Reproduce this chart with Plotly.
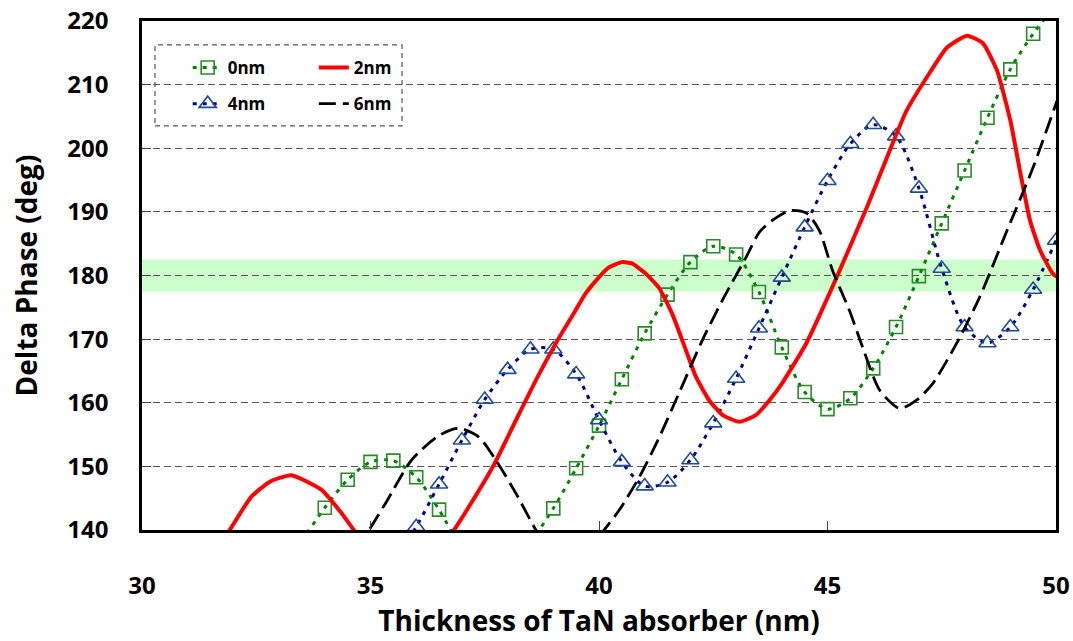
import plotly.graph_objects as go

# ---- data ----
x_0nm = [33.0, 33.5, 34.0, 34.5, 35.0, 35.5, 36.0, 36.5, 37.0, 37.5, 38.0, 38.5, 39.0, 39.5,
         40.0, 40.5, 41.0, 41.5, 42.0, 42.5, 43.0, 43.5, 44.0, 44.5, 45.0, 45.5, 46.0, 46.5,
         47.0, 47.5, 48.0, 48.5, 49.0, 49.5, 50.0]
y_0nm = [133.0, 138.3, 143.5, 147.9, 150.7, 150.9, 148.3, 143.2, 137.0, 133.0, 133.0, 138.0, 143.4, 149.7,
         156.4, 163.7, 170.9, 177.0, 182.1, 184.6, 183.3, 177.4, 168.7, 161.7, 159.0, 160.7, 165.4, 171.9,
         179.9, 188.2, 196.5, 204.8, 212.4, 218.0, 222.5]

x_2nm = [31.3, 31.82, 32.39, 32.8, 33.27, 33.93, 34.36, 34.74, 35.2, 35.75, 36.3, 36.78, 37.2, 37.72,
         38.22, 38.66, 39.1, 39.47, 39.69, 39.91, 40.2, 40.5, 40.72, 41.02, 41.31, 41.6, 41.9, 42.12,
         42.41, 42.7, 43.07, 43.44, 43.73, 44.01, 44.54, 45.2, 45.86, 46.36, 46.73, 47.24, 47.61,
         48.05, 48.4, 48.71, 49.0, 49.21, 49.43, 49.65, 49.93, 50.15]
y_2nm = [134.0, 138.9, 145.2, 147.6, 148.6, 146.3, 142.7, 139.0, 135.5, 133.5, 135.5, 139.5, 144.2, 150.5,
         157.8, 164.1, 169.9, 174.3, 177.0, 179.0, 181.2, 182.1, 181.9, 180.3, 178.1, 174.0, 168.3, 164.1,
         160.4, 158.1, 157.0, 158.1, 160.4, 163.1, 169.4, 179.7, 190.7, 199.6, 205.9, 211.9, 215.8,
         217.7, 216.5, 212.2, 204.4, 196.5, 188.7, 184.0, 180.3, 179.2]

x_4nm = [35.0, 35.5, 36.0, 36.5, 37.0, 37.5, 38.0, 38.5, 39.0, 39.5, 40.0, 40.5, 41.0, 41.5,
         42.0, 42.5, 43.0, 43.5, 44.0, 44.5, 45.0, 45.5, 46.0, 46.5, 47.0, 47.5, 48.0, 48.5,
         49.0, 49.5, 50.0]
y_4nm = [131.0, 135.0, 140.5, 147.2, 154.1, 160.5, 165.2, 168.4, 168.4, 164.5, 157.3, 150.7, 146.9, 147.5,
         151.0, 156.8, 163.8, 171.7, 179.7, 187.6, 194.9, 200.7, 203.7, 201.9, 193.7, 181.1, 171.9, 169.4,
         171.9, 177.8, 185.5]

x_6nm = [34.5, 34.89, 35.33, 35.9, 36.49, 36.93, 37.37, 37.74, 38.18, 38.62, 39.0, 39.3, 39.6, 40.0,
         40.44, 40.88, 41.32, 41.75, 42.26, 42.7, 43.22, 43.51, 43.8, 44.17, 44.54, 44.82, 45.11,
         45.48, 45.77, 46.14, 46.58, 46.95, 47.31, 47.83, 48.33, 48.93, 49.5, 50.0, 50.15]
y_6nm = [133.5, 139.0, 144.2, 151.0, 154.8, 156.0, 154.6, 151.0, 145.8, 140.0, 136.0, 134.8, 135.8, 139.0,
         143.1, 148.3, 154.6, 161.5, 169.8, 176.1, 182.9, 186.8, 188.7, 190.2, 189.8, 187.1, 180.8,
         174.5, 168.7, 162.0, 159.1, 160.4, 163.1, 169.4, 176.6, 187.1, 197.0, 207.0, 210.0]

band_low, band_high = 177.5, 182.5
x_ticks = [30, 35, 40, 45, 50]
y_ticks = [140, 150, 160, 170, 180, 190, 200, 210, 220]

FONT = "Open Sans"

fig = go.Figure()

fig.add_trace(go.Scatter(
    x=x_0nm, y=y_0nm, name="0nm", mode="lines+markers", legend="legend", legendgroup="a",
    line=dict(color="#008000", width=3, dash="4px,6px", shape="spline", smoothing=0.8),
    marker=dict(symbol="square-open", size=13, color="#2a8a2a", line=dict(width=1.6, color="#2a8a2a")),
))
fig.add_trace(go.Scatter(
    x=x_4nm, y=y_4nm, name="4nm", mode="lines+markers", legend="legend", legendgroup="b",
    line=dict(color="#000080", width=3, dash="4px,6px", shape="spline", smoothing=0.8),
    marker=dict(symbol="triangle-up-open", size=15, color="#1f4e8c", line=dict(width=1.6, color="#1f4e8c")),
))
fig.add_trace(go.Scatter(
    x=x_2nm, y=y_2nm, name="2nm", mode="lines", legend="legend2", legendgroup="c",
    line=dict(color="#ff0000", width=4, shape="spline", smoothing=0.5),
))
fig.add_trace(go.Scatter(
    x=x_6nm, y=y_6nm, name="6nm", mode="lines", legend="legend2", legendgroup="d",
    line=dict(color="#000000", width=2.8, dash="17px,7px", shape="spline", smoothing=0.7),
))

fig.add_shape(type="rect", xref="paper", yref="y", x0=0, x1=1, y0=band_low, y1=band_high,
              fillcolor="#ccffcc", line=dict(width=0), layer="below")
fig.add_shape(type="rect", xref="paper", yref="paper", x0=0.0142, x1=0.2845, y0=0.794, y1=0.953,
              line=dict(color="#555555", width=1.2, dash="5px,4px"), fillcolor="rgba(0,0,0,0)")

legend_common = dict(bgcolor="rgba(0,0,0,0)", borderwidth=0,
                     font=dict(family=FONT, size=17, color="black", weight="bold"),
                     tracegroupgap=11, xanchor="left", yanchor="top", itemwidth=30)

fig.update_layout(
    width=1073, height=641,
    margin=dict(l=142, r=17, t=21, b=111),
    paper_bgcolor="white", plot_bgcolor="white",
    font=dict(family=FONT, color="black"),
    legend=dict(x=0.050, y=0.943, **legend_common),
    legend2=dict(x=0.188, y=0.943, **legend_common),
    xaxis=dict(range=[30, 50], tickvals=x_ticks, ticks="inside", ticklen=9, tickwidth=1, tickcolor="#444",
               showline=True, linecolor="black", linewidth=2.5, mirror=True, showgrid=False, zeroline=False,
               automargin=False, ticklabeloverflow="allow",
               tickfont=dict(family=FONT, size=24, color="black", weight="bold"), ticklabelstandoff=32,
               title=dict(text="Thickness of TaN absorber (nm)", font=dict(family=FONT, size=28, weight="bold"),
                          standoff=8)),
    yaxis=dict(range=[140, 220], tickvals=y_ticks, ticks="inside", ticklen=9, tickwidth=1, tickcolor="#444",
               showline=True, linecolor="black", linewidth=2.5, mirror=True, zeroline=False,
               automargin=False, ticklabeloverflow="allow",
               showgrid=True, gridcolor="#555555", gridwidth=1, griddash="7px,4px",
               tickfont=dict(family=FONT, size=24, color="black", weight="bold"), ticklabelstandoff=26,
               title=dict(text="Delta Phase (deg)", font=dict(family=FONT, size=28, weight="bold"),
                          standoff=22)),
)

# remove the page's default 8px body margin so the figure fills the window exactly
fig.write_html("out.html", config={"displayModeBar": False},
               post_script="document.body.style.margin='0';document.body.style.overflow='hidden';")
